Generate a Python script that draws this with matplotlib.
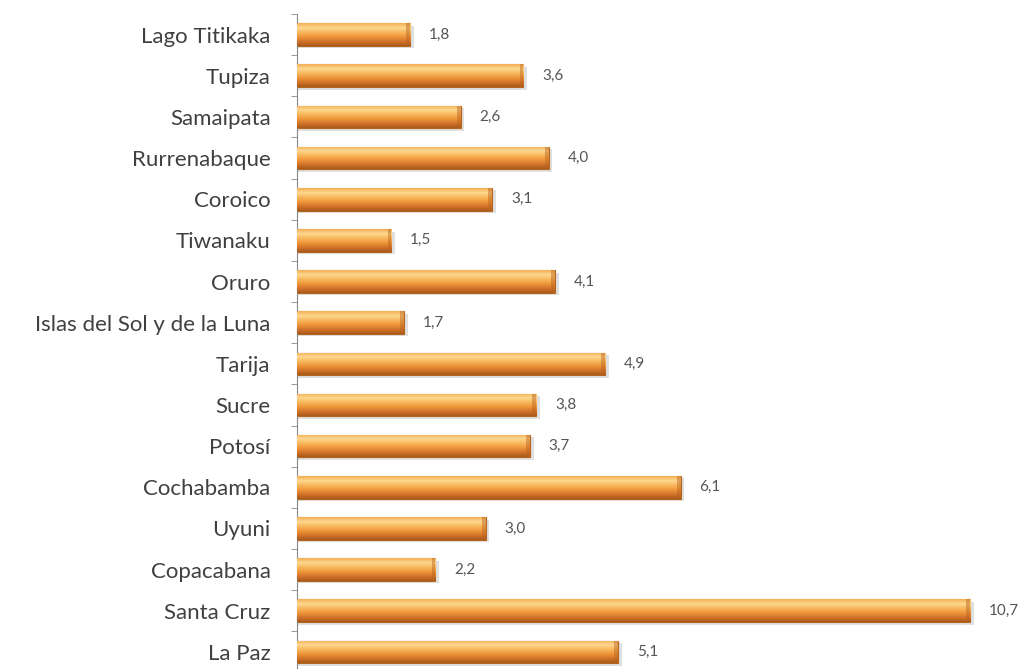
import numpy as np
import matplotlib.pyplot as plt
from matplotlib.colors import LinearSegmentedColormap

destinos = ["La Paz", "Santa Cruz", "Copacabana", "Uyuni", "Cochabamba", "Potosí",
            "Sucre", "Tarija", "Islas del Sol y de la Luna", "Oruro", "Tiwanaku",
            "Coroico", "Rurrenabaque", "Samaipata", "Tupiza", "Lago Titikaka"]
valores = [5.1, 10.7, 2.2, 3.0, 6.1, 3.7, 3.8, 4.9, 1.7, 4.1, 1.5, 3.1, 4.0, 2.6, 3.6, 1.8]

plt.rcParams['font.family'] = ['Lato', 'DejaVu Sans']

fig = plt.figure(figsize=(10.34, 6.69), dpi=100)
ax = fig.add_axes([297 / 1034, 0, 737 / 1034, 655 / 669])

y = np.arange(len(destinos))
bars = ax.barh(y, valores, height=0.55, color='#f0a040', edgecolor='#b5651d', linewidth=0.8, zorder=2)

# vertical gradient inside each bar
grad = LinearSegmentedColormap.from_list(
    'naranja', ['#a85a1c', '#d3742a', '#ee963a', '#f8b75c', '#fdd890', '#f4ae55'])
g = np.linspace(0, 1, 64).reshape(-1, 1)
for b in bars:
    x0, y0 = b.get_x(), b.get_y()
    w, h = b.get_width(), b.get_height()
    # shadow
    ax.barh(y0 + h / 2 - 0.06, w + 0.04, height=h, left=x0 + 0.02, color='#999999',
            alpha=0.3, linewidth=0, zorder=1)
    im = ax.imshow(g, cmap=grad, aspect='auto', origin='lower',
                   extent=[x0, x0 + w, y0, y0 + h], zorder=3)
    im.set_clip_path(b)
    # darker right cap
    ax.barh(y0 + h / 2, 0.06, height=h, left=x0 + w - 0.06, color='#b8621f',
            alpha=0.45, linewidth=0, zorder=4)

for yi, v in zip(y, valores):
    ax.text(v + 0.3, yi, f"{v:.1f}".replace('.', ','), va='center', ha='left',
            fontsize=11, color='#555555')

ax.set_xlim(0, 737 / 62.9)
ax.set_ylim(-0.5 + 3.5 / 41.07, len(destinos) - 0.5)
ax.set_yticks(y)
ax.set_yticklabels(destinos, fontsize=16, color='#404040')
ax.set_yticks(np.arange(len(destinos)) + 0.5, minor=True)
ax.tick_params(axis='y', which='major', length=0, pad=19)
ax.tick_params(axis='y', which='minor', length=4, color='#888888', direction='out')
ax.set_xticks([])
for s in ['top', 'right', 'bottom']:
    ax.spines[s].set_visible(False)
ax.spines['left'].set_color('#888888')

fig.savefig('out.png', dpi=100)
